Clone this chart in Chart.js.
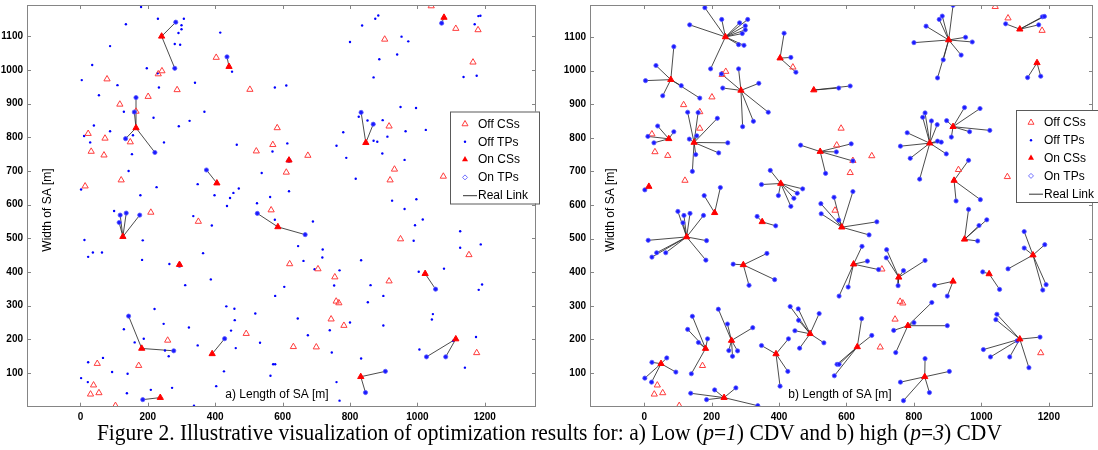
<!DOCTYPE html>
<html>
<head>
<meta charset="utf-8">
<script src="https://cdn.jsdelivr.net/npm/chart.js@4.4.1/dist/chart.umd.min.js"></script>
<style>
  html, body { margin: 0; padding: 0; background: #fff; }
  #wrap { position: relative; width: 1098px; height: 450px; overflow: hidden; }
  canvas { position: absolute; top: 0; }
  #chartA { left: 0; }
  #chartB { left: 563px; }
  #caption {
    position: absolute; left: 0; top: 421px; width: 1098px;
    text-align: center; white-space: nowrap;
    font-family: "Liberation Serif", "Times New Roman", serif;
    font-size: 23.5px; line-height: 1; color: #000;
  }
  #caption span { display: inline-block; transform-origin: center; }
</style>
</head>
<body>
<div id="wrap">
  <canvas id="chartA" width="541" height="424"></canvas>
  <canvas id="chartB" width="535" height="424"></canvas>
  <div id="caption"><span id="capText">Figure 2. Illustrative visualization of optimization results for: a) Low (<i>p</i>=<i>1</i>) CDV and b) high (<i>p</i>=<i>3</i>) CDV</span></div>
</div>
<script>
const xTicks = [0, 200, 400, 600, 800, 1000, 1200];
const yTicks = [100, 200, 300, 400, 500, 600, 700, 800, 900, 1000, 1100];
const legendRows = ['Off CSs', 'Off TPs', 'On CSs', 'On TPs', 'Real Link'];

// ---- a) p=1 ----
const offCsA = [
  [403,1037],[79,973],[242,997],[231,988],[287,941],[503,942],[201,921],[117,898],[165,877],[23,811],
  [73,797],[148,786],[32,758],[70,747],[522,759],[584,828],[571,778],[121,673],[14,655],
  [1041,1190],[1114,1123],[1180,1119],[903,1091],[1165,1023],[675,746],[916,833],[611,696],[932,705],
  [919,673],[1077,684],[566,584],
  [209,577],[350,550],[259,197],[492,217],[50,128],[173,122],[39,64],[30,37],[55,41],[104,3],
  [950,498],[1153,451],[621,424],[705,409],[755,385],[916,373],[759,313],[767,308],[744,260],[782,241],
  [632,178],[700,177],[1176,160]
];
const offTpA = [
  [180,1187],[230,1152],[307,1152],[300,1133],[300,1121],[291,1110],[280,1077],[296,1075],[135,1136],[415,1111],
  [88,1071],[35,1015],[4,970],[197,1005],[229,990],[233,948],[340,962],[110,955],[55,925],[129,876],
  [217,858],[324,849],[292,833],[368,876],[40,835],[88,818],[11,804],[156,806],[29,785],[248,785],
  [153,750],[464,778],[570,758],[143,700],[538,694],[348,661],[226,652],[2,645],[178,628],[398,628],
  [454,635],[470,648],[444,620],[435,596],[524,604],[563,623],[577,948],[450,995],
  [916,1194],[884,1162],[875,1152],[836,1132],[800,1083],[953,1099],[973,1085],[940,1046],[887,1032],[870,978],
  [611,954],[1181,1160],[1187,1161],[1170,1136],[1137,979],[1176,983],[950,890],[996,887],[826,861],[852,850],
  [897,851],[780,815],[911,802],[965,818],[1025,822],[760,775],[870,790],[881,787],[614,782],[896,752],
  [789,739],[962,733],[817,677],[619,640],[925,612],[997,616],[962,587],
  [100,581],[12,495],[23,445],[37,458],[64,458],[185,494],[183,436],[264,424],[311,361],[335,566],
  [364,456],[390,538],[387,378],[577,555],[578,329],[220,290],[247,246],[129,230],[161,191],[188,202],
  [262,150],[251,167],[322,235],[348,182],[433,298],[457,291],[447,226],[458,257],[461,174],[519,277],
  [533,190],[572,126],[578,126],[564,92],[23,132],[67,145],[94,103],[2,85],[22,73],[140,98],
  [138,40],[209,50],[272,56],[403,61],[426,105],[337,3],
  [1016,556],[993,539],[989,493],[690,550],[646,477],[719,467],[718,443],[662,433],[695,408],[769,405],
  [833,435],[1127,521],[1127,472],[1188,482],[1004,401],[1079,410],[1192,363],[1182,347],[605,356],[753,360],
  [861,361],[899,329],[853,310],[645,262],[740,227],[800,250],[899,241],[675,212],[746,161],[833,143],
  [1046,275],[1043,259],[1174,207],[1006,170],[1106,196],[1141,116],[760,73],[769,18]
];
const onCsA = [
  [241,1100],[441,1010],[165,828],[405,664],[1079,1156],[847,784],[619,732],[126,505],
  [294,422],[182,173],[391,157],[237,27],[586,534],[1023,395],[1114,201],[832,89]
];
// TPs linked to onCsA[i]
const onTpA = [
  [[283,1142],[280,1005]],
  [[435,1039]],
  [[165,918],[160,875],[134,796],[221,755]],
  [[374,703]],
  [[1072,1139]],
  [[833,874],[869,839]],
  [[619,731]],
  [[118,569],[115,547],[136,575],[176,569]],
  [[294,420]],
  [[143,269],[277,166]],
  [[428,202]],
  [[185,21]],
  [[525,574],[667,511]],
  [[1054,349]],
  [[1027,148],[1084,148]],
  [[905,105],[846,42]]
];

// ---- b) p=3 ----
const offCsB = [
  [1041,1190],[1079,1156],[1180,1119],[441,1010],[242,997],[231,988],[201,921],[117,898],[165,877],[165,828],
  [23,811],[32,758],[70,747],[121,673],[584,828],[571,778],[675,746],[611,696],[932,705],[1077,684],
  [566,584],[619,732],[1176,160],[705,409],[759,313],[767,308],[744,260],[700,177],[173,122],[39,64],
  [30,37],[55,41],[104,3]
];
const offTpB = [];
const onCsB = [
  [241,1100],[79,973],[287,941],[403,1037],[73,797],[148,786],[405,664],[14,655],[209,577],[503,942],
  [903,1091],[1114,1123],[1165,1023],[916,833],[847,784],[522,759],[919,673],[350,550],[126,505],[294,422],
  [50,128],[182,173],[259,197],[391,157],[237,27],[492,217],[586,534],[621,424],[755,385],[916,373],
  [950,498],[1023,395],[1153,451],[1114,201],[782,241],[632,178],[832,89]
];
const onTpB = [
  [[180,1187],[230,1152],[135,1136],[283,1142],[300,1133],[300,1121],[291,1110],[307,1152],[280,1077],[296,1075],[197,1005]],
  [[88,1071],[35,1015],[4,970],[55,925],[110,955],[165,918]],
  [[280,1005],[229,990],[233,948],[340,962],[368,876],[324,849],[292,833]],
  [[415,1111],[435,1039],[450,995]],
  [[40,835],[11,804],[29,785],[88,818]],
  [[129,876],[160,875],[217,858],[134,796],[156,806],[248,785],[221,755],[153,750],[143,700]],
  [[374,703],[348,661],[398,628],[435,596],[444,620],[454,635],[470,648]],
  [[2,645]],
  [[178,628],[226,652]],
  [[577,948],[611,954]],
  [[916,1194],[884,1162],[875,1152],[836,1132],[800,1083],[953,1099],[973,1085],[940,1046],[887,1032],[870,978]],
  [[1072,1139],[1181,1160],[1187,1161],[1170,1136]],
  [[1137,979],[1176,983]],
  [[950,890],[996,887],[897,851],[1025,822],[911,802],[965,818]],
  [[833,874],[826,861],[852,850],[869,839],[780,815],[760,775],[789,739],[817,677],[896,752],[870,790],[881,787]],
  [[464,778],[570,758],[614,782],[619,731],[538,694]],
  [[962,733],[925,612],[997,616]],
  [[335,566],[390,538]],
  [[100,581],[118,569],[115,547],[136,575],[176,569],[12,495],[37,458],[23,445],[64,458],[185,494],[183,436]],
  [[264,424],[364,456],[387,378],[311,361]],
  [[23,132],[67,145],[94,103],[2,85],[22,73]],
  [[143,269],[129,230],[161,191],[188,202],[140,98]],
  [[220,290],[247,246],[322,235],[251,167],[262,150],[277,166]],
  [[348,182],[428,202],[426,105],[403,61]],
  [[138,40],[209,50],[185,21],[272,56],[337,3]],
  [[433,298],[457,291],[458,257],[447,226],[461,174],[519,277],[533,190]],
  [[524,604],[563,623],[619,640],[525,574],[577,555],[690,550],[667,511]],
  [[646,477],[662,433],[695,408],[605,356],[578,329]],
  [[719,467],[718,443],[769,405],[833,435],[753,360]],
  [[861,361],[899,329]],
  [[962,587],[1016,556],[993,539],[989,493]],
  [[1004,401],[1054,349]],
  [[1127,521],[1127,472],[1188,482],[1079,410],[1192,363],[1182,347]],
  [[1046,275],[1043,259],[1174,207],[1006,170],[1027,148],[1084,148],[1141,116],[1106,196]],
  [[853,310],[800,250],[899,241],[740,227],[746,161]],
  [[645,262],[675,212],[572,126],[578,126],[564,92]],
  [[833,143],[905,105],[760,73],[846,42],[769,18]]
];

const pts = list => list.map(([x, y]) => ({x, y}));
const linkPts = (cs, tps) => {
  const out = [];
  cs.forEach(([cx, cy], i) => tps[i].forEach(([tx, ty]) => {
    out.push({x: cx, y: cy}, {x: tx, y: ty}, {x: NaN, y: NaN});
  }));
  return out;
};

Chart.defaults.font.family = '"Liberation Sans", Arial, sans-serif';
Chart.defaults.font.size = 10;
Chart.defaults.color = '#000';

const framePlugin = {
  id: 'frame',
  afterDraw(chart, args, o) {
    const {ctx, chartArea: a, scales: {x, y}} = chart;
    ctx.save();
    ctx.strokeStyle = '#858585';
    ctx.lineWidth = 1;
    ctx.beginPath();
    xTicks.forEach(v => {
      const p = Math.round(x.getPixelForValue(v)) + 0.5;
      ctx.moveTo(p, a.bottom); ctx.lineTo(p, a.bottom - 4);
      ctx.moveTo(p, a.top); ctx.lineTo(p, a.top + 4);
    });
    yTicks.forEach(v => {
      const p = Math.round(y.getPixelForValue(v)) + 0.5;
      ctx.moveTo(a.left, p); ctx.lineTo(a.left + 4, p);
      ctx.moveTo(a.right, p); ctx.lineTo(a.right - 4, p);
    });
    ctx.stroke();
    ctx.strokeRect(Math.round(a.left) + 0.5, Math.round(a.top) + 0.5,
      Math.round(a.right - a.left) - 1, Math.round(a.bottom - a.top) - 1);

    // axis titles sit inside the plot box
    ctx.fillStyle = '#000';
    ctx.font = '12px "Liberation Sans", Arial, sans-serif';
    ctx.textAlign = 'center';
    ctx.textBaseline = 'middle';
    ctx.fillText(o.xTitle, a.left + 250, a.bottom - 12);
    ctx.save();
    ctx.translate(a.left + 21, 210);
    ctx.rotate(-Math.PI / 2);
    ctx.fillText('Width of SA [m]', 0, 0);
    ctx.restore();

    // legend box
    const L = o.legendLeft, T = o.legendTop, W = 89, H = 92;
    ctx.fillStyle = '#fff';
    ctx.fillRect(L, T, W, H);
    ctx.strokeStyle = '#5a5a5a';
    ctx.strokeRect(L + 0.5, T + 0.5, W, H);
    ctx.textAlign = 'left';
    legendRows.forEach((txt, i) => {
      const cy = T + 12.5 + i * 17.8, mx = L + 15;
      ctx.beginPath();
      if (i === 0 || i === 2) {
        ctx.moveTo(mx, cy - 3.5);
        ctx.lineTo(mx + 3, cy + 1.75);
        ctx.lineTo(mx - 3, cy + 1.75);
        ctx.closePath();
        if (i === 0) { ctx.strokeStyle = '#ff4040'; ctx.stroke(); }
        else { ctx.fillStyle = '#ff0000'; ctx.fill(); }
      } else if (i === 1) {
        ctx.arc(mx, cy, 1.2, 0, Math.PI * 2);
        ctx.fillStyle = '#0000ff'; ctx.fill();
      } else if (i === 3) {
        ctx.moveTo(mx, cy - 2.5); ctx.lineTo(mx + 2.5, cy);
        ctx.lineTo(mx, cy + 2.5); ctx.lineTo(mx - 2.5, cy);
        ctx.closePath();
        ctx.strokeStyle = '#7070ff'; ctx.stroke();
      } else {
        ctx.moveTo(L + 13, cy + 0.5); ctx.lineTo(L + 27, cy + 0.5);
        ctx.strokeStyle = '#333'; ctx.stroke();
      }
      ctx.fillStyle = '#000';
      ctx.fillText(txt, L + 28, cy + 0.5);
    });
    ctx.restore();
  }
};

// keep the plot box where the figure has it: no automatic label padding
const noPad = s => { s.paddingTop = 0; s.paddingBottom = 0; s.paddingLeft = 0; s.paddingRight = 0; };

function makeChart(id, offCs, offTp, onCs, onTp, opt) {
  return new Chart(document.getElementById(id), {
    type: 'scatter',
    data: {
      datasets: [
        { label: 'On CSs', data: pts(onCs), order: 0, pointStyle: 'triangle', pointRadius: 3.6,
          backgroundColor: '#ff0000', borderColor: '#ff0000', borderWidth: 1 },
        { label: 'On TPs', data: pts(onTp.flat()), order: 1, pointStyle: 'circle', pointRadius: 2.1,
          backgroundColor: '#1a1aff', borderColor: 'rgba(90,90,255,0.8)', borderWidth: 1 },
        { label: 'Off CSs', data: pts(offCs), order: 2, pointStyle: 'triangle', pointRadius: 3.6,
          backgroundColor: 'rgba(0,0,0,0)', borderColor: '#ff3c3c', borderWidth: 1 },
        { label: 'Off TPs', data: pts(offTp), order: 3, pointStyle: 'circle', pointRadius: 1.2,
          backgroundColor: '#0000ff', borderWidth: 0 },
        { label: 'Real Link', data: linkPts(onCs, onTp), order: 4, showLine: true, spanGaps: false,
          pointRadius: 0, borderColor: 'rgba(45,45,45,0.85)', borderWidth: 1 }
      ]
    },
    options: {
      responsive: false,
      animation: false,
      events: [],
      layout: { padding: { top: opt.padTop, right: opt.padRight, left: 0, bottom: 0 } },
      plugins: {
        legend: { display: false },
        tooltip: { enabled: false },
        frame: opt
      },
      scales: {
        x: {
          type: 'linear', min: opt.xMin, max: opt.xMax,
          grid: { display: false, drawTicks: false }, border: { display: false },
          ticks: { padding: 5, font: { weight: 'bold' }, callback: v => String(v) },
          afterBuildTicks: s => { s.ticks = xTicks.map(v => ({value: v})); },
          afterFit: s => { s.height = 17.3; noPad(s); }
        },
        y: {
          type: 'linear', min: 0, max: opt.yMax,
          grid: { display: false, drawTicks: false }, border: { display: false },
          ticks: { padding: 4, font: { weight: 'bold' }, callback: v => String(v) },
          afterBuildTicks: s => { s.ticks = yTicks.map(v => ({value: v})); },
          afterFit: s => { s.width = 27; noPad(s); }
        }
      }
    },
    plugins: [framePlugin]
  });
}

makeChart('chartA', offCsA, offTpA, onCsA, onTpA, {
  xTitle: 'a) Length of SA [m]', xMin: -158.5, xMax: 1352, yMax: 1193,
  padTop: 3, padRight: 2, legendLeft: 450, legendTop: 111.5
});
makeChart('chartB', offCsB, offTpB, onCsB, onTpB, {
  xTitle: 'b) Length of SA [m]', xMin: -160.6, xMax: 1331, yMax: 1195,
  padTop: 1, padRight: 0, legendLeft: 453, legendTop: 110
});

// fit the caption to the width it has in the figure
const cap = document.getElementById('capText');
cap.style.transform = 'scaleX(' + (905 / cap.getBoundingClientRect().width).toFixed(4) + ')';
</script>
</body>
</html>
